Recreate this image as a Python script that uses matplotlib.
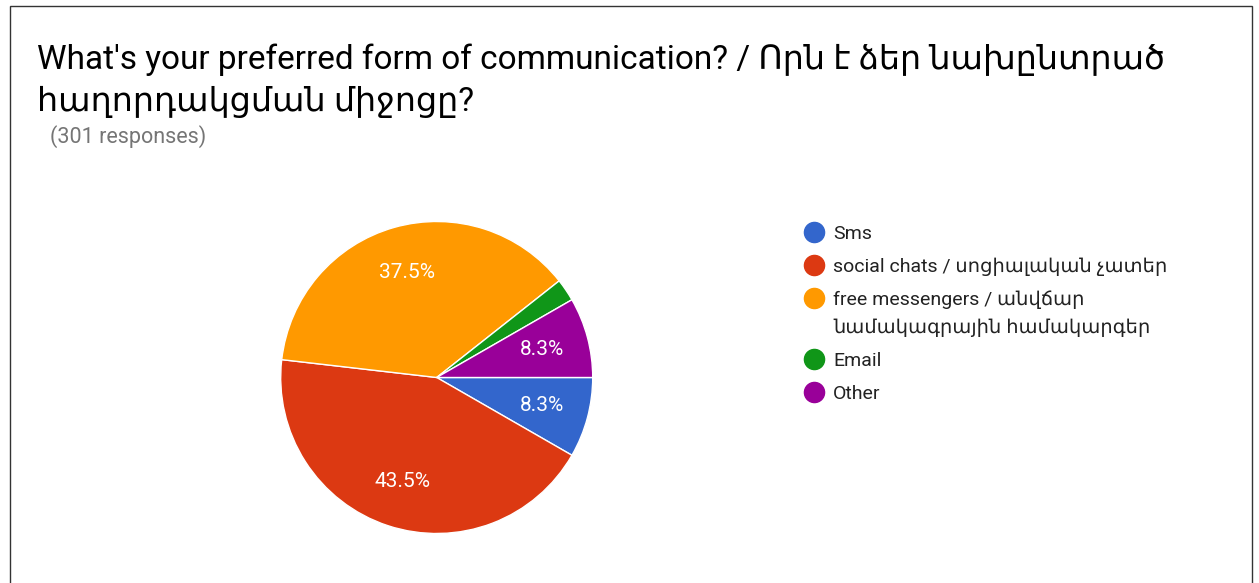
import matplotlib.pyplot as plt
from matplotlib.lines import Line2D
from matplotlib.patches import Rectangle

# data
labels = ["Sms",
          "social chats / սոցիալական չատեր",
          "free messengers / անվճար\nնամակագրային համակարգեր",
          "Email",
          "Other"]
counts = [25, 131, 113, 7, 25]
colors = ["#3366CC", "#DC3912", "#FF9900", "#109618", "#990099"]

title_1 = "What's your preferred form of communication? / Որն է ձեր նախընտրած"
title_2 = "հաղորդակցման միջոցը?"
subtitle = "(301 responses)"

FONT = ["Roboto", "DejaVu Sans"]
plt.rcParams["font.family"] = FONT

W, H = 1259, 583
fig = plt.figure(figsize=(W / 100, H / 100), dpi=100)

# outer frame
fig.patches.append(Rectangle((10 / W, -0.1), (1252 - 10) / W, 1 - 6 / H + 0.1,
                             transform=fig.transFigure, fill=False,
                             edgecolor="#333333", linewidth=1))

# title
fig.text(37 / W, 1 - 69 / H, title_1, fontsize=24, color="#000000", va="baseline")
fig.text(37 / W, 1 - 111 / H, title_2, fontsize=24, color="#000000", va="baseline")
fig.text(50 / W, 1 - 143 / H, subtitle, fontsize=15.5, color="#757575", va="baseline")

# pie
cx, cy, r = 436.7, 377.5, 156
ax = fig.add_axes([(cx - r) / W, (H - cy - r) / H, 2 * r / W, 2 * r / H])


def pct(p):
    return f"{p:.1f}%" if p >= 5 else ""


wedges, texts, autotexts = ax.pie(
    counts, colors=colors, startangle=0, counterclock=False,
    autopct=pct, pctdistance=0.70, radius=1,
    wedgeprops=dict(edgecolor="white", linewidth=1),
    textprops=dict(color="white", fontsize=15))
ax.set_xlim(-1, 1)
ax.set_ylim(-1, 1)
ax.axis("off")

# legend (Google style: dot aligned with first line of the label)
y = 232
for lab, c in zip(labels, colors):
    lines = lab.split("\n")
    fig.add_artist(Line2D([814 / W], [1 - y / H], marker="o", linestyle="none",
                          markersize=14.5, markerfacecolor=c, markeredgecolor=c,
                          transform=fig.transFigure))
    for k, ln in enumerate(lines):
        fig.text(833 / W, 1 - (y + 28 * k) / H, ln, fontsize=14,
                 color="#222222", va="center_baseline")
    y += 33 + 28 * (len(lines) - 1)

fig.savefig("out.png", dpi=100)
